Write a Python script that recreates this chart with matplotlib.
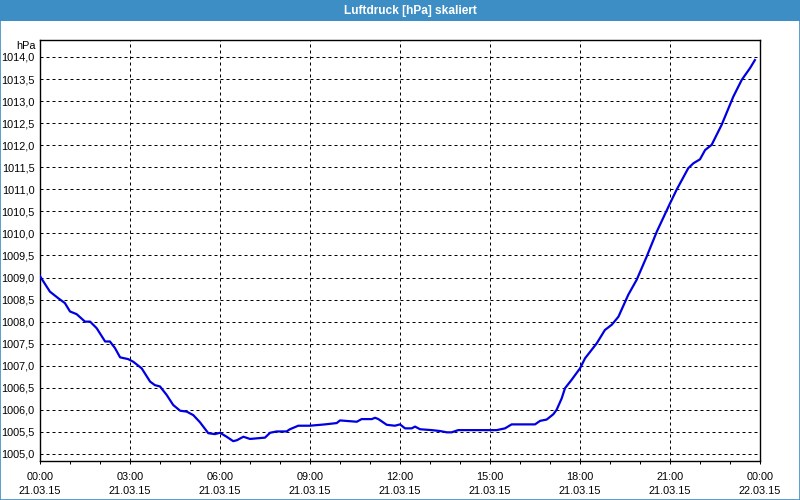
import matplotlib
matplotlib.use("Agg")
import matplotlib.pyplot as plt
from matplotlib.patches import Rectangle
from matplotlib.ticker import MultipleLocator, FuncFormatter

title = "Luftdruck [hPa] skaliert"
unit = "hPa"
hours = [0.0, 0.33, 0.61, 0.83, 1.0, 1.22, 1.5, 1.67, 1.89, 2.17, 2.33, 2.5, 2.67, 2.94,
         3.11, 3.39, 3.67, 3.83, 4.0, 4.22, 4.44, 4.67, 4.89, 5.11, 5.33, 5.61, 5.83, 6.0,
         6.22, 6.44, 6.56, 6.78, 7.0, 7.5, 7.67, 7.89, 8.22, 8.33, 8.61, 9.0, 9.5, 9.89,
         10.0, 10.56, 10.72, 11.06, 11.17, 11.28, 11.56, 11.83, 12.0, 12.17, 12.39, 12.5,
         12.67, 13.06, 13.33, 13.56, 13.72, 13.94, 15.0, 15.22, 15.5, 15.72, 16.5, 16.67,
         16.89, 17.11, 17.22, 17.39, 17.5, 17.72, 18.0, 18.17, 18.56, 18.83, 19.06, 19.28,
         19.61, 19.89, 20.22, 20.56, 21.0, 21.22, 21.61, 21.78, 22.0, 22.17, 22.39, 22.72,
         23.11, 23.39, 23.67, 23.83]
pressure = [1009.03, 1008.68, 1008.53, 1008.42, 1008.23, 1008.17, 1008.0, 1008.0, 1007.85,
            1007.55, 1007.55, 1007.40, 1007.19, 1007.15, 1007.09, 1006.94, 1006.64, 1006.56,
            1006.53, 1006.34, 1006.11, 1005.98, 1005.96, 1005.88, 1005.72, 1005.47, 1005.45,
            1005.48, 1005.39, 1005.29, 1005.31, 1005.39, 1005.34, 1005.37, 1005.48, 1005.51,
            1005.51, 1005.56, 1005.64, 1005.64, 1005.67, 1005.70, 1005.76, 1005.73, 1005.79,
            1005.79, 1005.82, 1005.79, 1005.66, 1005.64, 1005.67, 1005.58, 1005.58, 1005.62,
            1005.56, 1005.54, 1005.52, 1005.49, 1005.49, 1005.54, 1005.54, 1005.54, 1005.58,
            1005.67, 1005.67, 1005.75, 1005.78, 1005.90, 1006.0, 1006.26, 1006.49, 1006.68,
            1006.94, 1007.17, 1007.51, 1007.81, 1007.93, 1008.11, 1008.61, 1008.95, 1009.47,
            1010.04, 1010.68, 1010.99, 1011.48, 1011.59, 1011.68, 1011.89, 1012.01, 1012.46,
            1013.10, 1013.48, 1013.75, 1013.93]
x_ticks = [0, 3, 6, 9, 12, 15, 18, 21, 24]
x_labels = ["00:00\n21.03.15", "03:00\n21.03.15", "06:00\n21.03.15", "09:00\n21.03.15",
            "12:00\n21.03.15", "15:00\n21.03.15", "18:00\n21.03.15", "21:00\n21.03.15",
            "00:00\n22.03.15"]

FONT = "Liberation Sans"
fig = plt.figure(figsize=(8, 5), dpi=100)
fig.patch.set_facecolor("white")

# title bar and border
fig.patches.append(Rectangle((0, 0.958), 1, 0.042, transform=fig.transFigure,
                             facecolor="#3D8EC5", edgecolor="none", zorder=0))
fig.patches.append(Rectangle((0.0006, 0.001), 0.9988, 0.998, transform=fig.transFigure,
                             facecolor="none", edgecolor="#3D8EC5", linewidth=1.2, zorder=0))
fig.text(0.513, 0.978, title, ha="center", va="center", color="white",
         fontsize=8.6, fontweight="bold", family=FONT)

ax = fig.add_axes([0.05, 0.078, 0.90, 0.842])
ax.plot(hours, pressure, color="#0000E0", linewidth=1.6, zorder=3)
ax.set_xlim(0, 24)
ax.set_ylim(1004.84, 1014.385)

ax.set_xticks(x_ticks)
ax.set_xticklabels(x_labels, family=FONT, fontsize=7.8, linespacing=1.45)
ax.xaxis.set_minor_locator(MultipleLocator(1))
ax.yaxis.set_major_locator(MultipleLocator(0.5))
ax.yaxis.set_major_formatter(FuncFormatter(lambda v, p: f"{v:.1f}".replace(".", ",")))
ax.tick_params(axis="y", length=0, pad=4, labelsize=7.8)
ax.tick_params(axis="x", which="both", direction="out", length=2.2, width=0.72, pad=6)
for lab in ax.get_yticklabels():
    lab.set_family(FONT)

ax.grid(True, which="major", color="black", linestyle=(0, (3, 3)), linewidth=0.72)
for s in ax.spines.values():
    s.set_linewidth(1.0)
    s.set_color("black")

fig.text(0.045, 0.908, unit, ha="right", va="center", fontsize=7.8, family=FONT)

fig.savefig("out.png", dpi=100)
